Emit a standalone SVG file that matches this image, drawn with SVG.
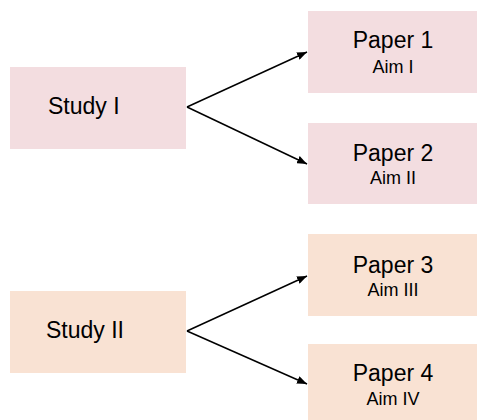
<svg xmlns="http://www.w3.org/2000/svg" width="477" height="420" viewBox="0 0 477 420">
<style>
.pink{fill:#F3DDE0}
.peach{fill:#F9E2D3}
.big{font-family:"Liberation Sans",Arial,sans-serif;font-size:23px;fill:#000}
.small{font-family:"Liberation Sans",Arial,sans-serif;font-size:18px;fill:#000}
.c{text-anchor:middle}
.conn line{stroke:#000;stroke-width:1.5;fill:none}
</style>
<defs>
<marker id="ah" viewBox="0 0 10 8" refX="10" refY="4" markerWidth="10" markerHeight="8" markerUnits="userSpaceOnUse" orient="auto">
<path d="M0,0 L10,4 L0,8 z" fill="#000"/>
</marker>
</defs>
<rect width="477" height="420" fill="#fff"/>
<g id="study1"><rect class="pink" x="10" y="67" width="176" height="82"/><text class="big" x="48" y="114">Study I</text></g>
<g id="paper1"><rect class="pink" x="308" y="11" width="169" height="82"/><text class="big c" x="393" y="48">Paper 1</text><text class="small c" x="393" y="73">Aim I</text></g>
<g id="paper2"><rect class="pink" x="308" y="123" width="169" height="81"/><text class="big c" x="393" y="161">Paper 2</text><text class="small c" x="393" y="184">Aim II</text></g>
<g id="study2"><rect class="peach" x="10" y="291" width="176" height="82"/><text class="big" x="46" y="338">Study II</text></g>
<g id="paper3"><rect class="peach" x="308" y="234" width="169" height="82"/><text class="big c" x="393" y="273">Paper 3</text><text class="small c" x="393" y="296">Aim III</text></g>
<g id="paper4"><rect class="peach" x="308" y="344" width="169" height="82"/><text class="big c" x="393" y="381">Paper 4</text><text class="small c" x="393" y="405">Aim IV</text></g>
<g class="conn">
<line x1="187" y1="107" x2="307" y2="52" marker-end="url(#ah)"/>
<line x1="187" y1="107" x2="307" y2="164" marker-end="url(#ah)"/>
<line x1="187" y1="331" x2="307" y2="276" marker-end="url(#ah)"/>
<line x1="187" y1="331" x2="307" y2="384" marker-end="url(#ah)"/>
</g>
</svg>
